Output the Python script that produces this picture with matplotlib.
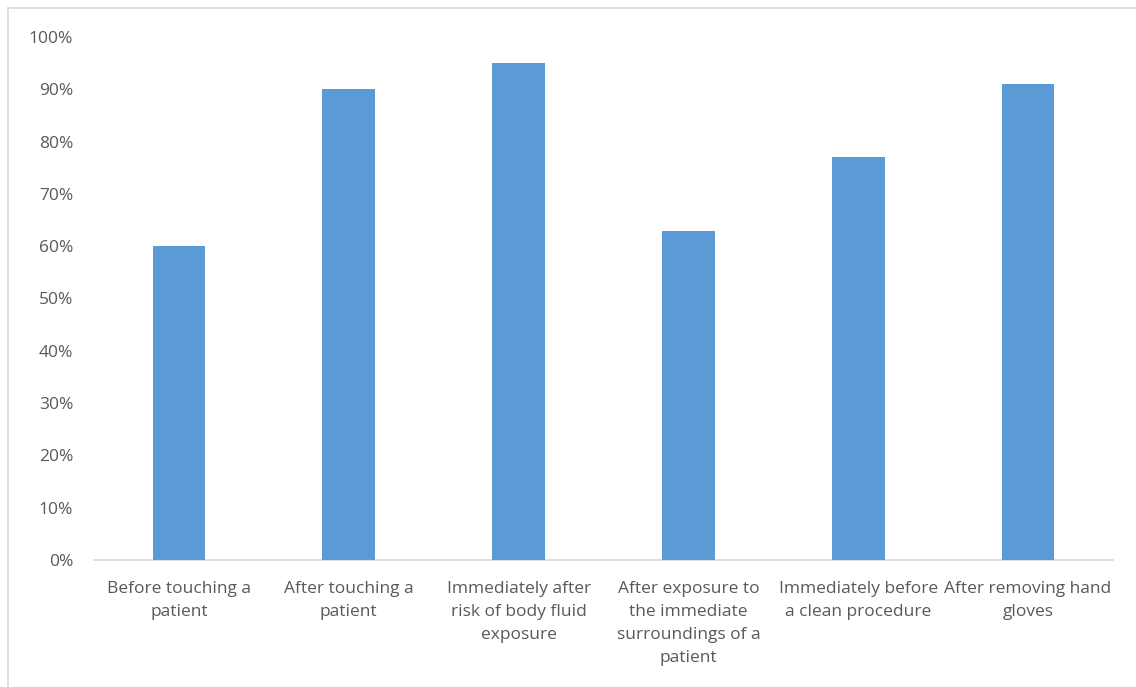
import matplotlib
matplotlib.use("Agg")
import matplotlib.pyplot as plt
from matplotlib.lines import Line2D
from matplotlib.ticker import PercentFormatter, MultipleLocator

categories = [
    "Before touching a\npatient",
    "After touching a\npatient",
    "Immediately after\nrisk of body fluid\nexposure",
    "After exposure to\nthe immediate\nsurroundings of a\npatient",
    "Immediately before\na clean procedure",
    "After removing hand\ngloves",
]
values = [0.60, 0.90, 0.95, 0.63, 0.77, 0.91]

plt.rcParams['font.family'] = ['Open Sans', 'DejaVu Sans']

W, H = 1136, 687
fig = plt.figure(figsize=(W / 100, H / 100), dpi=100)
ax = fig.add_axes([94 / W, (H - 560) / H, (1113 - 94) / W, (560 - 37) / H])

x = range(len(categories))
ax.bar(x, values, width=0.31, color="#5b9bd5", zorder=3)
ax.set_xlim(-0.5, len(categories) - 0.5)
ax.set_ylim(0, 1.0)
ax.yaxis.set_major_locator(MultipleLocator(0.1))
ax.yaxis.set_major_formatter(PercentFormatter(1.0, decimals=0))
ax.set_xticks(list(x))
ax.set_xticklabels(categories, linespacing=1.6)

for s in ["top", "right", "left"]:
    ax.spines[s].set_visible(False)
ax.spines["bottom"].set_color("#d9d9d9")
ax.spines["bottom"].set_linewidth(1.2)
ax.tick_params(axis="both", length=0, colors="#595959", labelsize=12.5)
ax.tick_params(axis="y", pad=15)
ax.tick_params(axis="x", pad=15)

# outer chart border (top and left edges visible)
fig.add_artist(Line2D([8 / W, 1.0], [1 - 8 / H, 1 - 8 / H], color="#d9d9d9", lw=1.2, transform=fig.transFigure))
fig.add_artist(Line2D([8 / W, 8 / W], [0, 1 - 8 / H], color="#d9d9d9", lw=1.2, transform=fig.transFigure))

fig.savefig("out.png", dpi=100, facecolor="white")
